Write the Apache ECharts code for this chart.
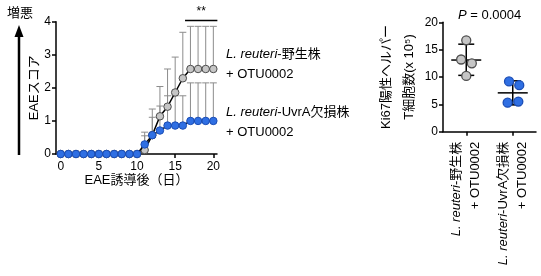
<!DOCTYPE html>
<html><head><meta charset="utf-8">
<script src="https://cdn.jsdelivr.net/npm/echarts@6/dist/echarts.min.js"></script>
<style>html,body{margin:0;padding:0;background:#fff}#c{width:541px;height:276px}</style>
</head><body><div id="c"></div>
<script>
// ---- Left panel data (EAE score over days) ----
const days = [0,1,2,3,4,5,6,7,8,9,10,11,12,13,14,15,16,17,18,19,20];
const wtMean   = [0,0,0,0,0,0,0,0,0,0,0,0.12,0.57,1.14,1.43,1.86,2.29,2.57,2.57,2.57,2.57];
const wtUpper  = [0,0,0,0,0,0,0,0,0,0,0,0.66,1.36,2.04,2.57,2.93,3.68,3.86,3.86,3.86,3.86];
const uvrMean  = [0,0,0,0,0,0,0,0,0,0,0,0.29,0.57,0.71,0.86,0.86,0.86,1.0,1.0,1.0,1.0];
const uvrUpper = [0,0,0,0,0,0,0,0,0,0,0,0.55,1.11,1.45,1.76,1.76,1.76,2.15,2.15,2.15,2.15];
const xTicksLeft = [0,5,10,15,20];
const sigSpan = [16.29, 20.53];
const sigLevel = 4.04;
const sigLabel = '**';
// ---- Right panel data (Ki67+ helper T cells) ----
const catItalic = ['L. reuteri', 'L. reuteri'];
const catSuffix = ['-野生株', '-UvrA欠損株'];
const catSecond = ['+ OTU0002', '+ OTU0002'];
const wtCells  = [16.7, 13.2, 12.5, 10.2];
const wtJitter = [0, -0.11, 0.12, 0];
const uvrCells  = [9.2, 8.5, 5.3, 5.5];
const uvrJitter = [-0.08, 0.14, -0.11, 0.12];
const wtSummary  = [13.1, 10.3, 16.0];   // mean, low, high
const uvrSummary = [7.1, 4.9, 9.3];
const pValue = '0.0004';

const FONT = 'Liberation Sans, Arial, Noto Sans CJK JP, sans-serif';
const GRAY_FILL = '#c6c6c6', GRAY_EDGE = '#4d4d4d';
const BLUE_FILL = '#2f6fe3', BLUE_EDGE = '#1b4db5';
const ERR = '#8c8c8c';

const chart = echarts.init(document.getElementById('c'), null, {renderer: 'canvas'});

function errRender(params, api) {
  const x = api.value(0), m = api.value(1), u = api.value(2);
  if (!(u > m)) return null;
  const p0 = api.coord([x, m]), p1 = api.coord([x, u]);
  return {type: 'group', children: [
    {type: 'line', shape: {x1: p0[0], y1: p0[1], x2: p1[0], y2: p1[1]}, style: {stroke: ERR, lineWidth: 1}},
    {type: 'line', shape: {x1: p1[0] - 3.5, y1: p1[1], x2: p1[0] + 3.5, y2: p1[1]}, style: {stroke: ERR, lineWidth: 1}}
  ]};
}
function sigRender(params, api) {
  const a = api.coord([api.value(0), api.value(2)]);
  const b = api.coord([api.value(1), api.value(2)]);
  return {type: 'group', children: [
    {type: 'line', shape: {x1: a[0], y1: a[1], x2: b[0], y2: b[1]}, style: {stroke: '#000', lineWidth: 1.5}},
    {type: 'text', x: (a[0] + b[0]) / 2, y: a[1] - 3, style: {text: sigLabel, fontSize: 12, fontFamily: FONT, fill: '#000', align: 'center', verticalAlign: 'bottom'}}
  ]};
}
function summaryRender(params, api) {
  const x = api.value(0), m = api.value(1), lo = api.value(2), hi = api.value(3);
  const pm = api.coord([x, m]), pl = api.coord([x, lo]), ph = api.coord([x, hi]);
  const st = {stroke: '#000', lineWidth: 1.5};
  return {type: 'group', children: [
    {type: 'line', shape: {x1: pm[0] - 15, y1: pm[1], x2: pm[0] + 15, y2: pm[1]}, style: st},
    {type: 'line', shape: {x1: pl[0], y1: pl[1], x2: ph[0], y2: ph[1]}, style: st},
    {type: 'line', shape: {x1: ph[0] - 8, y1: ph[1], x2: ph[0] + 8, y2: ph[1]}, style: st},
    {type: 'line', shape: {x1: pl[0] - 8, y1: pl[1], x2: pl[0] + 8, y2: pl[1]}, style: st}
  ]};
}

const axisLineStyle = {show: true, onZero: false, lineStyle: {color: '#000', width: 1.5}};
const tickStyle = {show: true, length: 4, lineStyle: {color: '#000', width: 1.5}};
const labelBase = {color: '#000', fontSize: 12, fontFamily: FONT};

const option = {
  animation: false,
  backgroundColor: '#fff',
  textStyle: {fontFamily: FONT},
  grid: [
    {left: 56, top: 21.7, width: 161, height: 132.3},
    {left: 443, top: 22.3, width: 93, height: 109.4}
  ],
  xAxis: [
    {type: 'value', gridIndex: 0, min: -0.62, max: 20.48,
     axisLine: axisLineStyle,
     axisTick: Object.assign({}, tickStyle, {customValues: xTicksLeft}),
     axisLabel: Object.assign({}, labelBase, {customValues: xTicksLeft, margin: 7}),
     splitLine: {show: false},
     name: 'EAE誘導後（日）', nameLocation: 'middle', nameGap: 19,
     nameTextStyle: {color: '#000', fontSize: 13, fontFamily: FONT}},
    {type: 'category', gridIndex: 1, data: catItalic.map((c, i) => c + catSuffix[i] + ' ' + catSecond[i]),
     boundaryGap: true,
     axisLine: axisLineStyle,
     axisTick: Object.assign({}, tickStyle, {alignWithLabel: true}),
     axisLabel: {rotate: 90, interval: 0, margin: 10, color: '#000', fontSize: 13, fontFamily: FONT,
       lineHeight: 19,
       formatter: (v, i) => '{it|' + catItalic[i] + '}' + catSuffix[i] + '\n' + catSecond[i],
       rich: {it: {fontStyle: 'italic', fontSize: 13, fontFamily: FONT, color: '#000'}}},
     splitLine: {show: false}},
    {type: 'value', gridIndex: 1, min: -0.5, max: 1.5, show: false}
  ],
  yAxis: [
    {type: 'value', gridIndex: 0, min: 0, max: 4, interval: 1,
     axisLine: axisLineStyle, axisTick: tickStyle,
     axisLabel: Object.assign({}, labelBase, {margin: 5}),
     splitLine: {show: false},
     name: 'EAEスコア', nameLocation: 'middle', nameRotate: 90, nameGap: 11,
     nameTextStyle: {color: '#000', fontSize: 13, fontFamily: FONT}},
    {type: 'value', gridIndex: 1, min: 0, max: 20, interval: 5,
     axisLine: axisLineStyle, axisTick: tickStyle,
     axisLabel: Object.assign({}, labelBase, {margin: 5}),
     splitLine: {show: false},
     name: 'Ki67陽性ヘルパー\nT細胞数(x 10⁵)', nameLocation: 'middle', nameRotate: 90, nameGap: 15,
     nameTextStyle: {color: '#000', fontSize: 13, fontFamily: FONT, lineHeight: 23}}
  ],
  series: [
    {type: 'custom', xAxisIndex: 0, yAxisIndex: 0, z: 1, renderItem: errRender,
     data: days.map((d, i) => [d, wtMean[i], wtUpper[i]])},
    {type: 'custom', xAxisIndex: 0, yAxisIndex: 0, z: 1, renderItem: errRender,
     data: days.map((d, i) => [d, uvrMean[i], uvrUpper[i]])},
    {type: 'line', xAxisIndex: 0, yAxisIndex: 0, z: 3, symbol: 'circle', symbolSize: 7.5, showSymbol: true,
     lineStyle: {color: '#000', width: 1.5},
     itemStyle: {color: GRAY_FILL, borderColor: GRAY_EDGE, borderWidth: 1},
     data: days.map((d, i) => [d, wtMean[i]])},
    {type: 'line', xAxisIndex: 0, yAxisIndex: 0, z: 4, symbol: 'circle', symbolSize: 7.5, showSymbol: true,
     lineStyle: {color: '#000', width: 1.5},
     itemStyle: {color: BLUE_FILL, borderColor: BLUE_EDGE, borderWidth: 1},
     data: days.map((d, i) => [d, uvrMean[i]])},
    {type: 'custom', xAxisIndex: 0, yAxisIndex: 0, clip: false, z: 5, renderItem: sigRender,
     data: [[sigSpan[0], sigSpan[1], sigLevel]]},
    {type: 'custom', xAxisIndex: 2, yAxisIndex: 1, z: 2, clip: false, renderItem: summaryRender,
     data: [[0].concat(wtSummary), [1].concat(uvrSummary)]},
    {type: 'scatter', xAxisIndex: 2, yAxisIndex: 1, z: 3, symbol: 'circle', symbolSize: 9,
     itemStyle: {color: GRAY_FILL, borderColor: GRAY_EDGE, borderWidth: 1.3, opacity: 1},
     data: wtCells.map((v, i) => [0 + wtJitter[i], v])},
    {type: 'scatter', xAxisIndex: 2, yAxisIndex: 1, z: 3, symbol: 'circle', symbolSize: 9,
     itemStyle: {color: BLUE_FILL, borderColor: BLUE_EDGE, borderWidth: 1.3, opacity: 1},
     data: uvrCells.map((v, i) => [1 + uvrJitter[i], v])}
  ],
  graphic: [
    {type: 'text', left: 7, top: 7, style: {text: '増悪', fontSize: 13, fontFamily: FONT, fill: '#000'}},
    {type: 'line', shape: {x1: 19, y1: 155, x2: 19, y2: 34}, style: {stroke: '#000', lineWidth: 2.5}},
    {type: 'polygon', shape: {points: [[19, 25], [14.5, 37], [23.5, 37]]}, style: {fill: '#000'}},
    {type: 'text', left: 226, top: 48, style: {text: '{it|L. reuteri}-野生株', fontSize: 13, fontFamily: FONT, fill: '#000',
      rich: {it: {fontStyle: 'italic', fontSize: 13, fontFamily: FONT, fill: '#000'}}}},
    {type: 'text', left: 226, top: 68, style: {text: '+ OTU0002', fontSize: 13, fontFamily: FONT, fill: '#000'}},
    {type: 'text', left: 226, top: 106, style: {text: '{it|L. reuteri}-UvrA欠損株', fontSize: 13, fontFamily: FONT, fill: '#000',
      rich: {it: {fontStyle: 'italic', fontSize: 13, fontFamily: FONT, fill: '#000'}}}},
    {type: 'text', left: 226, top: 126, style: {text: '+ OTU0002', fontSize: 13, fontFamily: FONT, fill: '#000'}},
    {type: 'text', left: 458, top: 9, style: {text: '{it|P} = ' + pValue, fontSize: 13, fontFamily: FONT, fill: '#000',
      rich: {it: {fontStyle: 'italic', fontSize: 13, fontFamily: FONT, fill: '#000'}}}}
  ]
};
chart.setOption(option);
</script>
</body></html>
